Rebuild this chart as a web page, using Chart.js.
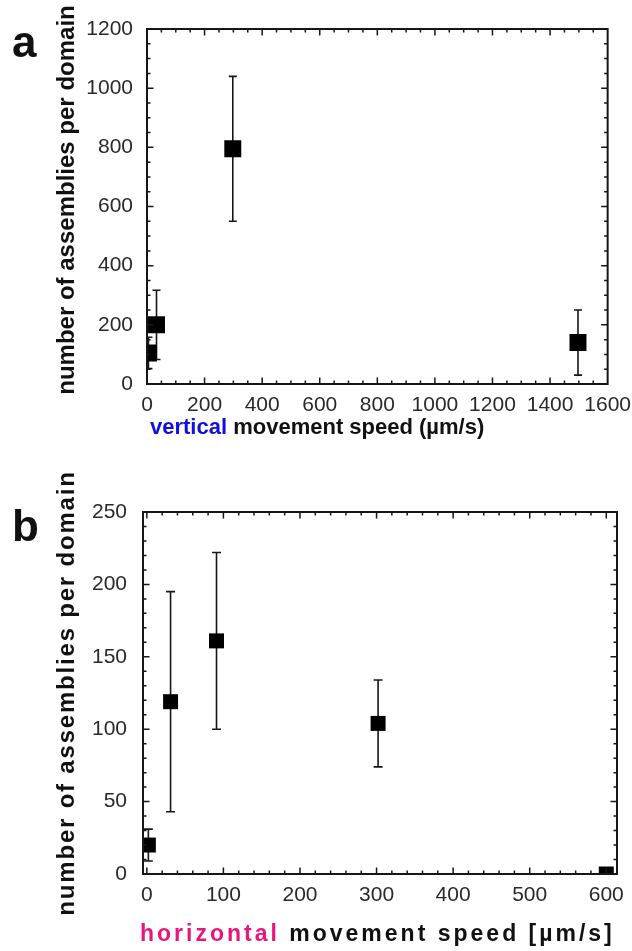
<!DOCTYPE html>
<html>
<head>
<meta charset="utf-8">
<script src="https://cdn.jsdelivr.net/npm/chart.js@4.4.1/dist/chart.umd.min.js"></script>
<style>
  body { margin: 0; background: #fff; width: 632px; height: 951px; position: relative; overflow: hidden;
         font-family: 'Liberation Sans', Arial, sans-serif; color: #111; }
  canvas { position: absolute; left: 0; }
  .panel { position: absolute; font-weight: bold; font-size: 44px; line-height: 1; }
  .ytitle { position: absolute; font-weight: bold; font-size: 24px; white-space: nowrap; line-height: 1;
            transform: translate(-50%, -50%) rotate(-90deg); }
  .xtitle { position: absolute; font-weight: bold; font-size: 22px; white-space: nowrap; line-height: 1; }
</style>
</head>
<body>
<canvas id="chartA" width="632" height="420" style="top:0"></canvas>
<canvas id="chartB" width="632" height="471" style="top:480px"></canvas>

<div class="panel" style="left:12px; top:20px">a</div>
<div class="panel" style="left:12px; top:504px">b</div>
<div class="ytitle" style="left:66px; top:200px">number of assemblies per domain</div>
<div class="ytitle" style="left:66px; top:693px; letter-spacing:1.8px">number of assemblies per domain</div>
<div class="xtitle" style="left:150px; top:416px"><span style="color:#1010e0">vertical</span> movement speed (&micro;m/s)</div>
<div class="xtitle" style="left:140px; top:922px; font-size:23px; letter-spacing:3px"><span style="color:#e8167c">horizontal</span> movement speed [&micro;m/s]</div>

<script>
// panel a: vertical movement
const speedA = [5, 33, 298, 1497];
const countA = [105, 200, 795, 140];
const errA = [53, 117, 245, 110];
const xTicksA = [0, 200, 400, 600, 800, 1000, 1200, 1400, 1600];
const yTicksA = [0, 200, 400, 600, 800, 1000, 1200];

// panel b: horizontal movement
const speedB = [2, 31, 91, 302, 600];
const countB = [20, 119, 161, 104, 0];
const errB = [11, 76, 61, 30, 0];
const xTicksB = [0, 100, 200, 300, 400, 500, 600];
const yTicksB = [0, 50, 100, 150, 200, 250];

const INK = '#161616';
const tickFont = { family: "'Liberation Sans', Arial, sans-serif", size: 21 };

// error bars under the squares
const errorBars = {
    id: 'errorBars',
    beforeDatasetsDraw(chart, args, opts) {
        const { ctx, chartArea: a, scales: { x, y } } = chart;
        const ds = chart.data.datasets[0];
        ctx.save();
        ctx.beginPath();
        ctx.rect(a.left, a.top, a.width, a.height);
        ctx.clip();
        ctx.strokeStyle = INK;
        ctx.lineWidth = 1.6;
        ds.data.forEach((p, i) => {
            const e = ds.errors[i];
            if (!e) return;
            const px = x.getPixelForValue(p.x);
            const top = y.getPixelForValue(p.y + e);
            const bot = y.getPixelForValue(p.y - e);
            ctx.beginPath();
            ctx.moveTo(px, top); ctx.lineTo(px, bot);
            ctx.moveTo(px - opts.cap, top); ctx.lineTo(px + opts.cap, top);
            ctx.moveTo(px - opts.cap, bot); ctx.lineTo(px + opts.cap, bot);
            ctx.stroke();
        });
        ctx.restore();
    }
};

// box round the plot with inward major + minor ticks on all sides
const frame = {
    id: 'frame',
    afterDatasetsDraw(chart, args, opts) {
        const { ctx, chartArea: a, scales: { x, y } } = chart;
        ctx.save();
        ctx.strokeStyle = INK;
        ctx.lineWidth = 1.5;
        ctx.beginPath();
        const tickAt = (scale, v, len) => {
            const p = scale.getPixelForValue(v);
            if (scale.axis === 'x') {
                if (p < a.left + 1 || p > a.right - 1) return;
                ctx.moveTo(p, a.bottom); ctx.lineTo(p, a.bottom - len);
                ctx.moveTo(p, a.top); ctx.lineTo(p, a.top + len);
            } else {
                if (p < a.top + 1 || p > a.bottom - 1) return;
                ctx.moveTo(a.left, p); ctx.lineTo(a.left + len, p);
                ctx.moveTo(a.right, p); ctx.lineTo(a.right - len, p);
            }
        };
        [[x, opts.minorX], [y, opts.minorY]].forEach(([scale, step]) => {
            for (let v = Math.ceil(scale.min / step) * step; v <= scale.max; v += step) tickAt(scale, v, 3.5);
            scale.ticks.forEach(t => tickAt(scale, t.value, 6.5));
        });
        ctx.stroke();
        ctx.lineWidth = 2;
        ctx.strokeRect(a.left, a.top, a.width, a.height);
        ctx.restore();
    }
};

function makeChart(id, cfg) {
    return new Chart(document.getElementById(id), {
        type: 'scatter',
        data: {
            datasets: [{
                data: cfg.xs.map((v, i) => ({ x: v, y: cfg.ys[i] })),
                errors: cfg.errs,
                pointStyle: 'rect',
                pointRadius: cfg.radius,
                pointBackgroundColor: '#000',
                pointBorderWidth: 0,
                clip: 0
            }]
        },
        options: {
            responsive: false,
            animation: false,
            events: [],
            layout: { padding: cfg.padding },
            plugins: {
                legend: { display: false },
                tooltip: { enabled: false },
                errorBars: { cap: cfg.cap },
                frame: { minorX: cfg.minorX, minorY: cfg.minorY }
            },
            scales: {
                x: {
                    type: 'linear', min: cfg.xMin, max: cfg.xMax,
                    afterBuildTicks: s => { s.ticks = cfg.xTicks.map(v => ({ value: v })); },
                    afterFit: s => { s.height = cfg.xHeight; },
                    grid: { display: false },
                    border: { display: false },
                    ticks: { font: tickFont, color: '#2a2a2a', padding: 1, maxRotation: 0, autoSkip: false,
                             callback: v => String(v) }
                },
                y: {
                    type: 'linear', min: cfg.yMin, max: cfg.yMax,
                    afterBuildTicks: s => { s.ticks = cfg.yTicks.map(v => ({ value: v })); },
                    afterFit: s => { s.width = cfg.yWidth; },
                    grid: { display: false },
                    border: { display: false },
                    ticks: { font: tickFont, color: '#2a2a2a', padding: cfg.yPad, autoSkip: false,
                             callback: v => String(v) }
                }
            }
        },
        plugins: [errorBars, frame]
    });
}

makeChart('chartA', {
    xs: speedA, ys: countA, errs: errA, xTicks: xTicksA, yTicks: yTicksA,
    xMin: 0, xMax: 1600, yMin: 0, yMax: 1200, minorX: 50, minorY: 50,
    radius: 12, cap: 4, yPad: 6,
    padding: { left: 0, top: 29, right: 24, bottom: 0 }, yWidth: 147, xHeight: 36
});

makeChart('chartB', {
    xs: speedB, ys: countB, errs: errB, xTicks: xTicksB, yTicks: yTicksB,
    xMin: -5, xMax: 614, yMin: 0, yMax: 250, minorX: 20, minorY: 10,
    radius: 10.6, cap: 4.5, yPad: 8,
    padding: { left: 0, top: 32, right: 15, bottom: 0 }, yWidth: 143, xHeight: 77
});
</script>
</body>
</html>
